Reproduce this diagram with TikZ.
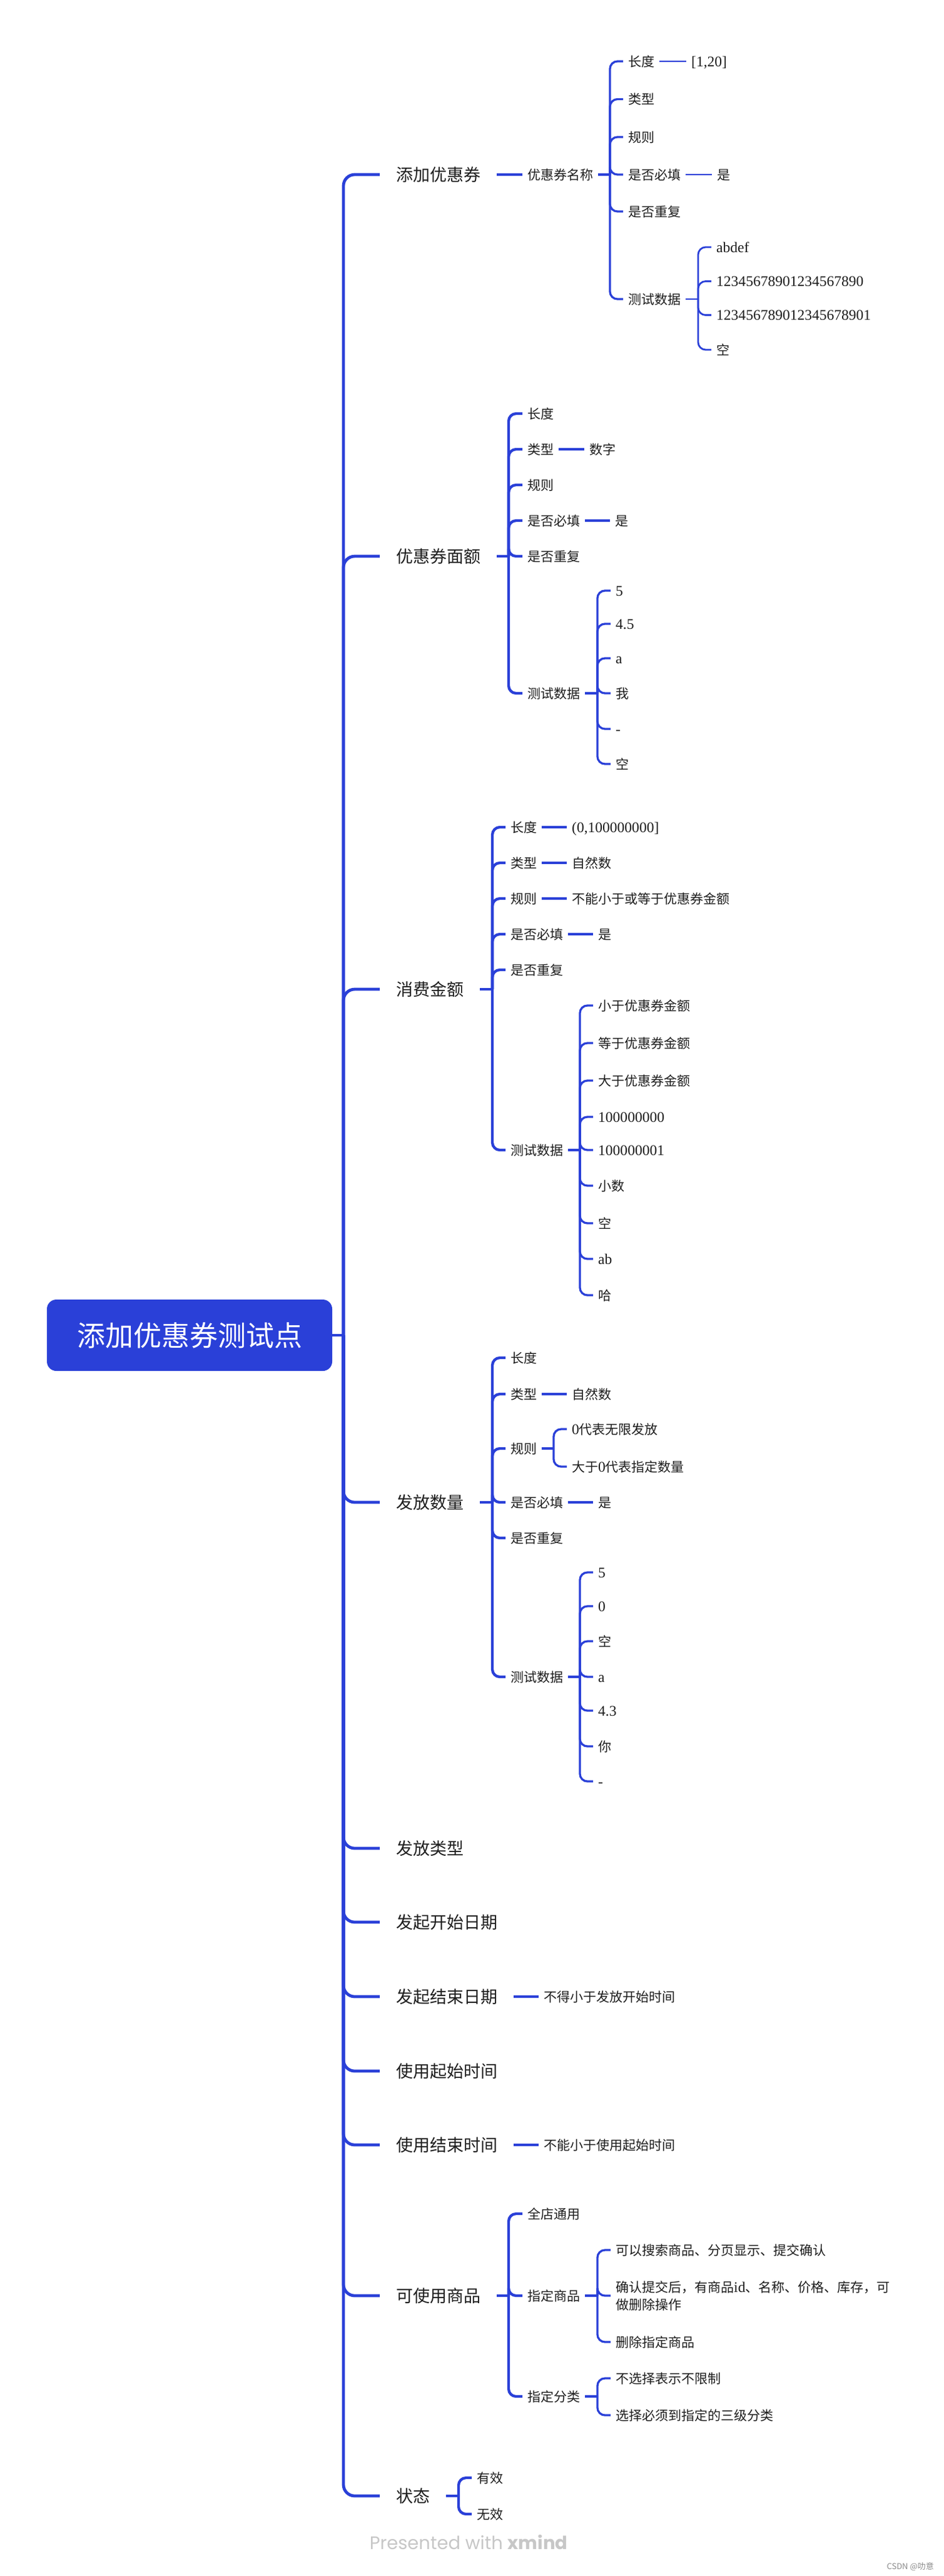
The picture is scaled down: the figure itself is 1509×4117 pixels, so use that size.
\documentclass[tikz,border=0pt]{standalone}
\usepackage{fontspec}
\setmainfont{Noto Sans CJK SC}
\newfontfamily\latf[Scale=1.12]{Liberation Serif}
\newfontfamily\popf{Poppins}
\newcommand\lat[1]{{\latf #1}}
\definecolor{brand}{RGB}{42,64,216}
\definecolor{txt}{RGB}{30,30,30}
\tikzset{
  root/.style={fill=brand, rounded corners=15pt, minimum width=456pt, minimum height=114pt,
    inner sep=0pt, text=white, font=\fontsize{45}{50}\selectfont},
  l1/.style={anchor=west, inner xsep=26pt, inner ysep=0pt, text=txt,
    font=\fontsize{27}{32}\selectfont, text height=23.8pt, text depth=3.2pt},
  l2/.style={anchor=west, inner xsep=8pt, inner ysep=0pt, text=txt,
    font=\fontsize{21}{28}\selectfont, text height=18.5pt, text depth=2.5pt},
  l2m/.style={anchor=west, inner xsep=8pt, inner ysep=0pt, text=txt, align=left,
    font=\fontsize{21}{28}\selectfont},
  c1/.style={draw=brand, line width=4.8pt, rounded corners=18pt},
  c2/.style={draw=brand, line width=4.3pt, rounded corners=12pt},
  c3/.style={draw=brand, line width=3.3pt, rounded corners=12pt},
  c4/.style={draw=brand, line width=2.8pt, rounded corners=12pt},
}
\begin{document}
\begin{tikzpicture}[x=1pt,y=-1pt]
\fill[white] (0,0) rectangle (1509,4117);
\path[use as bounding box] (0,0) rectangle (1509,4117);

% root
\node[root] (root) at (303,2134) {添加优惠券测试点};
\coordinate (J0) at (549,2134);
\draw[c1] (root.east) -- (J0);

% level 1
\node[l1] (A) at (607,279)  {添加优惠券};
\node[l1] (B) at (607,889)  {优惠券面额};
\node[l1] (C) at (607,1581) {消费金额};
\node[l1] (D) at (607,2401) {发放数量};
\node[l1] (E1) at (607,2954) {发放类型};
\node[l1] (E2) at (607,3072) {发起开始日期};
\node[l1] (E3) at (607,3191) {发起结束日期};
\node[l1] (E4) at (607,3310) {使用起始时间};
\node[l1] (E5) at (607,3428) {使用结束时间};
\node[l1] (F) at (607,3669) {可使用商品};
\node[l1] (G) at (607,3989) {状态};
\foreach \n in {A,B,C,D,E1,E2,E3,E4,E5,F,G} \draw[c1] (J0) |- (\n.west);

% ---------- section A ----------
\node[l2] (A0) at (835,279) {优惠券名称};
\draw[c2] (A.east) -- (A0.west);
\coordinate (JA0) at (975,279);
\draw[c3] (A0.east) -- (JA0);
\node[l2] (A1) at (996,98) {长度};
\node[l2] (A2) at (996,158.5) {类型};
\node[l2] (A3) at (996,219) {规则};
\node[l2] (A4) at (996,279) {是否必填};
\node[l2] (A5) at (996,338) {是否重复};
\node[l2] (A6) at (996,478) {测试数据};
\foreach \n in {A1,A2,A3,A4,A5,A6} \draw[c3] (JA0) |- (\n.west);
\node[l2] (A1v) at (1097,98) {\lat{[1,20]}};
\draw[c4] (A1.east) -- (A1v.west);
\node[l2] (A4v) at (1138,279) {是};
\draw[c4] (A4.east) -- (A4v.west);
\coordinate (JA6) at (1116,478);
\draw[c4] (A6.east) -- (JA6);
\node[l2] (A61) at (1137,395) {\lat{abdef}};
\node[l2] (A62) at (1137,449.5) {\lat{12345678901234567890}};
\node[l2] (A63) at (1137,503.6) {\lat{123456789012345678901}};
\node[l2] (A64) at (1137,559) {空};
\foreach \n in {A61,A62,A63,A64} \draw[c4] (JA6) |- (\n.west);

% ---------- section B ----------
\coordinate (JB) at (813,889);
\draw[c2] (B.east) -- (JB);
\node[l2] (B1) at (835,661) {长度};
\node[l2] (B2) at (835,718) {类型};
\node[l2] (B3) at (835,775) {规则};
\node[l2] (B4) at (835,832) {是否必填};
\node[l2] (B5) at (835,889) {是否重复};
\node[l2] (B6) at (835,1108) {测试数据};
\foreach \n in {B1,B2,B3,B4,B5,B6} \draw[c2] (JB) |- (\n.west);
\node[l2] (B2v) at (934,718) {数字};
\draw[c3] (B2.east) -- (B2v.west);
\node[l2] (B4v) at (975,832) {是};
\draw[c3] (B4.east) -- (B4v.west);
\coordinate (JB6) at (955,1108);
\draw[c3] (B6.east) -- (JB6);
\node[l2] (B61) at (976,944) {\lat{5}};
\node[l2] (B62) at (976,997) {\lat{4.5}};
\node[l2] (B63) at (976,1052) {\lat{a}};
\node[l2] (B64) at (976,1108) {我};
\node[l2] (B65) at (976,1165) {\lat{-}};
\node[l2] (B66) at (976,1221) {空};
\foreach \n in {B61,B62,B63,B64,B65,B66} \draw[c3] (JB6) |- (\n.west);

% ---------- section C ----------
\coordinate (JC) at (787,1581);
\draw[c2] (C.east) -- (JC);
\node[l2] (C1) at (808,1322) {长度};
\node[l2] (C2) at (808,1379) {类型};
\node[l2] (C3) at (808,1436) {规则};
\node[l2] (C4) at (808,1493) {是否必填};
\node[l2] (C5) at (808,1550) {是否重复};
\node[l2] (C6) at (808,1838) {测试数据};
\foreach \n in {C1,C2,C3,C4,C5,C6} \draw[c2] (JC) |- (\n.west);
\node[l2] (C1v) at (906,1322) {\lat{(0,100000000]}};
\draw[c3] (C1.east) -- (C1v.west);
\node[l2] (C2v) at (906,1379) {自然数};
\draw[c3] (C2.east) -- (C2v.west);
\node[l2] (C3v) at (906,1436) {不能小于或等于优惠券金额};
\draw[c3] (C3.east) -- (C3v.west);
\node[l2] (C4v) at (948,1493) {是};
\draw[c3] (C4.east) -- (C4v.west);
\coordinate (JC6) at (927,1838);
\draw[c3] (C6.east) -- (JC6);
\node[l2] (C61) at (948,1607) {小于优惠券金额};
\node[l2] (C62) at (948,1667) {等于优惠券金额};
\node[l2] (C63) at (948,1727) {大于优惠券金额};
\node[l2] (C64) at (948,1785) {\lat{100000000}};
\node[l2] (C65) at (948,1838) {\lat{100000001}};
\node[l2] (C66) at (948,1895) {小数};
\node[l2] (C67) at (948,1955) {空};
\node[l2] (C68) at (948,2012) {\lat{ab}};
\node[l2] (C69) at (948,2070) {哈};
\foreach \n in {C61,C62,C63,C64,C65,C66,C67,C68,C69} \draw[c3] (JC6) |- (\n.west);

% ---------- section D ----------
\coordinate (JD) at (787,2401);
\draw[c2] (D.east) -- (JD);
\node[l2] (D1) at (808,2170) {长度};
\node[l2] (D2) at (808,2228) {类型};
\node[l2] (D3) at (808,2315) {规则};
\node[l2] (D4) at (808,2401) {是否必填};
\node[l2] (D5) at (808,2458) {是否重复};
\node[l2] (D6) at (808,2680) {测试数据};
\foreach \n in {D1,D2,D3,D4,D5,D6} \draw[c2] (JD) |- (\n.west);
\node[l2] (D2v) at (906,2228) {自然数};
\draw[c3] (D2.east) -- (D2v.west);
\coordinate (JD3) at (885,2315);
\draw[c3] (D3.east) -- (JD3);
\node[l2] (D31) at (906,2284) {\lat{0}代表无限发放};
\node[l2] (D32) at (906,2344) {大于\lat{0}代表指定数量};
\foreach \n in {D31,D32} \draw[c3] (JD3) |- (\n.west);
\node[l2] (D4v) at (948,2401) {是};
\draw[c3] (D4.east) -- (D4v.west);
\coordinate (JD6) at (927,2680);
\draw[c3] (D6.east) -- (JD6);
\node[l2] (D61) at (948,2513) {\lat{5}};
\node[l2] (D62) at (948,2567) {\lat{0}};
\node[l2] (D63) at (948,2623) {空};
\node[l2] (D64) at (948,2680) {\lat{a}};
\node[l2] (D65) at (948,2734) {\lat{4.3}};
\node[l2] (D66) at (948,2791) {你};
\node[l2] (D67) at (948,2847) {\lat{-}};
\foreach \n in {D61,D62,D63,D64,D65,D66,D67} \draw[c3] (JD6) |- (\n.west);

% ---------- section E ----------
\node[l2] (E3v) at (861,3191) {不得小于发放开始时间};
\draw[c2] (E3.east) -- (E3v.west);
\node[l2] (E5v) at (861,3428) {不能小于使用起始时间};
\draw[c2] (E5.east) -- (E5v.west);

% ---------- section F ----------
\coordinate (JF) at (813,3669);
\draw[c2] (F.east) -- (JF);
\node[l2] (F1) at (835,3538) {全店通用};
\node[l2] (F2) at (835,3669) {指定商品};
\node[l2] (F3) at (835,3830) {指定分类};
\foreach \n in {F1,F2,F3} \draw[c2] (JF) |- (\n.west);
\coordinate (JF2) at (955,3669);
\draw[c3] (F2.east) -- (JF2);
\node[l2] (F21) at (976,3596) {可以搜索商品、分页显示、提交确认};
\node[l2m] (F22) at (976,3669) {确认提交后，有商品\lat{id}、名称、价格、库存，可\\做删除操作};
\node[l2] (F23) at (976,3743) {删除指定商品};
\foreach \n in {F21,F22,F23} \draw[c3] (JF2) |- (\n.west);
\coordinate (JF3) at (955,3830);
\draw[c3] (F3.east) -- (JF3);
\node[l2] (F31) at (976,3801) {不选择表示不限制};
\node[l2] (F32) at (976,3860) {选择必须到指定的三级分类};
\foreach \n in {F31,F32} \draw[c3] (JF3) |- (\n.west);

% ---------- section G ----------
\coordinate (JG) at (733,3989);
\draw[c2] (G.east) -- (JG);
\node[l2] (G1) at (754,3960) {有效};
\node[l2] (G2) at (754,4018) {无效};
\foreach \n in {G1,G2} \draw[c2] (JG) |- (\n.west);

% watermarks
\node[text=black!22, font=\popf\fontsize{29}{34}\selectfont, inner sep=0pt] (wm) at (749,4063)
  {Presented with \textbf{xmind}};
\node[text=black!45, font=\fontsize{13}{15}\selectfont, anchor=east, inner sep=0pt] (csdn) at (1493,4102)
  {CSDN @叻意};
\end{tikzpicture}
\end{document}
